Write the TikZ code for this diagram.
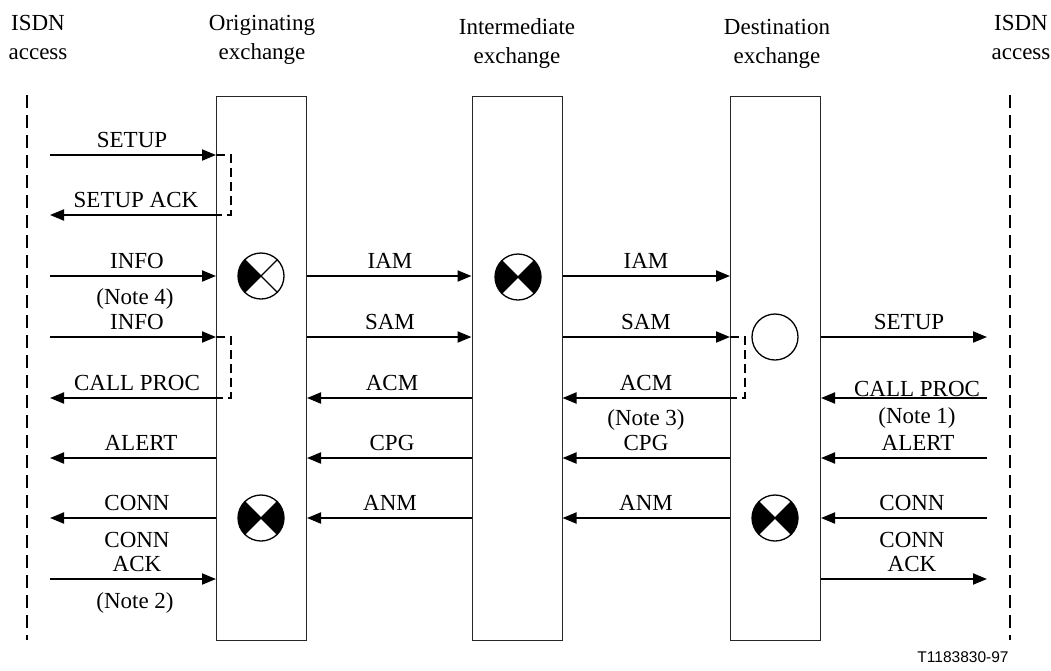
\documentclass[tikz,border=0pt]{standalone}
\usepackage{fontspec}
\setmainfont{Liberation Serif}
\newfontfamily\arialfont{Liberation Sans}
\usetikzlibrary{arrows.meta}
\begin{document}
\begin{tikzpicture}[x=1pt,y=-1pt,
 exch/.style={draw=black!85,line width=1pt,minimum width=90pt,minimum height=544pt,inner sep=0pt},
 access/.style={line width=2pt,dash pattern=on 13pt off 7pt},
 msg/.style={line width=2pt,-{Triangle[length=14pt,width=11pt]}},
 brk/.style={line width=2pt,dash pattern=on 9pt off 5pt},
 lbl/.style={anchor=base,inner sep=0pt,font=\fontsize{23}{27}\selectfont},
 foot/.style={anchor=base,inner sep=0pt,font=\arialfont\fontsize{15.5}{18}\selectfont},
 sym/.style={circle,draw,line width=1.3pt,minimum size=46pt,inner sep=0pt},
 cross/.style={line width=1.3pt},
]
\useasboundingbox (0,0) rectangle (1051,670);

% headers
\node[lbl] (h1a) at (38,30) {ISDN};
\node[lbl] (h1b) at (38,59) {access};
\node[lbl] (h2a) at (262,30) {Originating};
\node[lbl] (h2b) at (262,59) {exchange};
\node[lbl] (h3a) at (517,34) {Intermediate};
\node[lbl] (h3b) at (517,63) {exchange};
\node[lbl] (h4a) at (777,34) {Destination};
\node[lbl] (h4b) at (777,63) {exchange};
\node[lbl] (h5a) at (1021,30) {ISDN};
\node[lbl] (h5b) at (1021,59) {access};

% exchanges
\node[exch] (orig) at (261.5,368) {};
\node[exch] (inter) at (517,368) {};
\node[exch] (dest) at (775.5,368) {};

% access lines
\coordinate (latop) at (27,95);
\coordinate (labot) at (27,640);
\coordinate (ratop) at (1010,95);
\coordinate (rabot) at (1010,640);
\draw[access] (latop) -- (labot);
\draw[access] (ratop) -- (rabot);

% rows and free ends
\coordinate (r1) at (0,155);
\coordinate (r2) at (0,215);
\coordinate (r3) at (0,276);
\coordinate (r4) at (0,337);
\coordinate (r5) at (0,398);
\coordinate (r6) at (0,458);
\coordinate (r7) at (0,518);
\coordinate (r8) at (0,579);
\coordinate (lx) at (50,0);
\coordinate (rx) at (987,0);

% left side
\draw[msg] (lx |- r1) -- (orig.west |- r1);
\draw[msg] (orig.west |- r2) -- (lx |- r2);
\draw[msg] (lx |- r3) -- (orig.west |- r3);
\draw[msg] (lx |- r4) -- (orig.west |- r4);
\draw[msg] (orig.west |- r5) -- (lx |- r5);
\draw[msg] (orig.west |- r6) -- (lx |- r6);
\draw[msg] (orig.west |- r7) -- (lx |- r7);
\draw[msg] (lx |- r8) -- (orig.west |- r8);

% orig <-> inter
\draw[msg] (orig.east |- r3) -- (inter.west |- r3);
\draw[msg] (orig.east |- r4) -- (inter.west |- r4);
\draw[msg] (inter.west |- r5) -- (orig.east |- r5);
\draw[msg] (inter.west |- r6) -- (orig.east |- r6);
\draw[msg] (inter.west |- r7) -- (orig.east |- r7);

% inter <-> dest
\draw[msg] (inter.east |- r3) -- (dest.west |- r3);
\draw[msg] (inter.east |- r4) -- (dest.west |- r4);
\draw[msg] (dest.west |- r5) -- (inter.east |- r5);
\draw[msg] (dest.west |- r6) -- (inter.east |- r6);
\draw[msg] (dest.west |- r7) -- (inter.east |- r7);

% right side
\draw[msg] (dest.east |- r4) -- (rx |- r4);
\draw[msg] (rx |- r5) -- (dest.east |- r5);
\draw[msg] (rx |- r6) -- (dest.east |- r6);
\draw[msg] (rx |- r7) -- (dest.east |- r7);
\draw[msg] (dest.east |- r8) -- (rx |- r8);

% dashed brackets
\draw[brk] (orig.west |- r1) -- ++(15,0) |- (orig.west |- r2);
\draw[brk] (orig.west |- r4) -- ++(15,0) |- (orig.west |- r5);
\draw[brk] (dest.west |- r4) -- ++(15,0) |- (dest.west |- r5);

% symbols
\node[sym] (s1) at (261,276) {};
\fill (s1.center) -- ++(135:23pt) arc[start angle=135,end angle=225,radius=23pt] -- cycle;
\draw[cross] (s1.45) -- (s1.225) (s1.135) -- (s1.315);

\node[sym] (s2) at (518,277) {};
\fill (s2.center) -- ++(135:23pt) arc[start angle=135,end angle=225,radius=23pt] -- cycle;
\fill (s2.center) -- ++(-45:23pt) arc[start angle=-45,end angle=45,radius=23pt] -- cycle;
\draw[cross] (s2.45) -- (s2.225) (s2.135) -- (s2.315);

\node[sym] (s3) at (775,337) {};

\node[sym] (s4) at (261,518) {};
\fill (s4.center) -- ++(135:23pt) arc[start angle=135,end angle=225,radius=23pt] -- cycle;
\fill (s4.center) -- ++(-45:23pt) arc[start angle=-45,end angle=45,radius=23pt] -- cycle;
\draw[cross] (s4.45) -- (s4.225) (s4.135) -- (s4.315);

\node[sym] (s5) at (775,518) {};
\fill (s5.center) -- ++(135:23pt) arc[start angle=135,end angle=225,radius=23pt] -- cycle;
\fill (s5.center) -- ++(-45:23pt) arc[start angle=-45,end angle=45,radius=23pt] -- cycle;
\draw[cross] (s5.45) -- (s5.225) (s5.135) -- (s5.315);

% left labels
\node[lbl] (l1) at (132,147) {SETUP};
\node[lbl] (l2) at (136,207) {SETUP ACK};
\node[lbl] (l3) at (137,268) {INFO};
\node[lbl] (l3n) at (135,304) {(Note 4)};
\node[lbl] (l4) at (137,329) {INFO};
\node[lbl] (l5) at (137,390) {CALL PROC};
\node[lbl] (l6) at (141,450) {ALERT};
\node[lbl] (l7) at (137,510) {CONN};
\node[lbl] (l8a) at (137,547) {CONN};
\node[lbl] (l8b) at (137,571) {ACK};
\node[lbl] (l8n) at (135,608) {(Note 2)};

% middle-left labels
\node[lbl] (m3) at (390,268) {IAM};
\node[lbl] (m4) at (390,329) {SAM};
\node[lbl] (m5) at (392,390) {ACM};
\node[lbl] (m6) at (392,450) {CPG};
\node[lbl] (m7) at (390,510) {ANM};

% middle-right labels
\node[lbl] (n3) at (646,268) {IAM};
\node[lbl] (n4) at (646,329) {SAM};
\node[lbl] (n5) at (646,390) {ACM};
\node[lbl] (n5n) at (646,425) {(Note 3)};
\node[lbl] (n6) at (646,450) {CPG};
\node[lbl] (n7) at (646,510) {ANM};

% right labels
\node[lbl] (q4) at (909,329) {SETUP};
\node[lbl] (q5) at (917,396) {CALL PROC};
\node[lbl] (q5n) at (917,423) {(Note 1)};
\node[lbl] (q6) at (918,450) {ALERT};
\node[lbl] (q7) at (912,510) {CONN};
\node[lbl] (q8a) at (912,547) {CONN};
\node[lbl] (q8b) at (912,571) {ACK};

% footer
\node[foot] (fig) at (963,662) {T1183830-97};
\end{tikzpicture}
\end{document}
